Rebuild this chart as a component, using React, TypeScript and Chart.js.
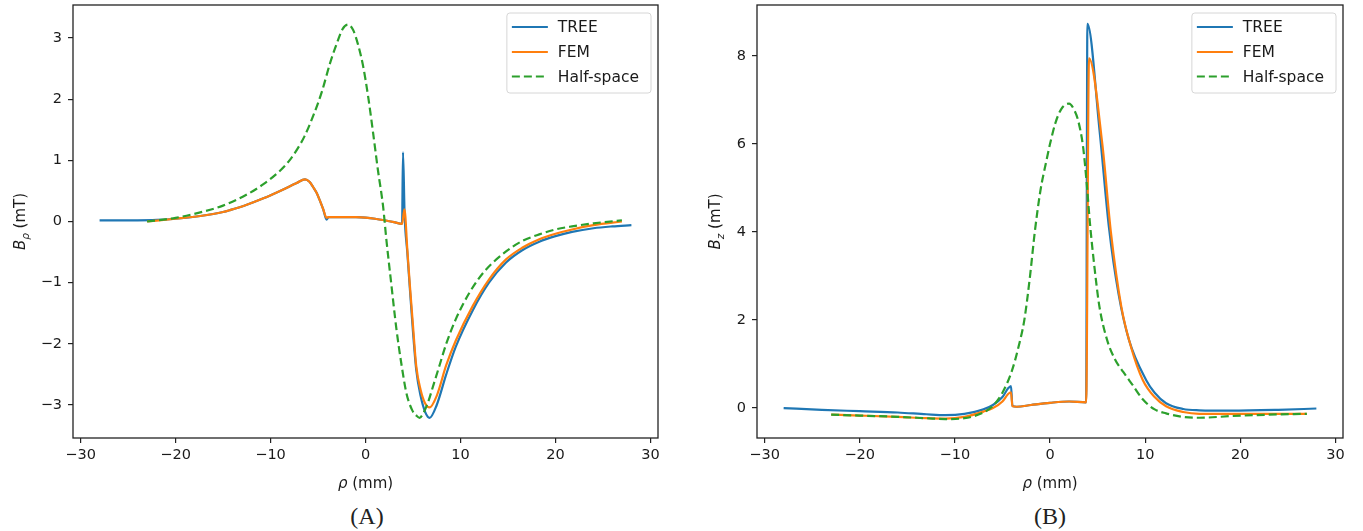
import React, { useEffect, useRef } from "react";
import { Chart, registerables } from "chart.js";

Chart.register(...registerables);

// ---------- shared ticks / labels ----------
const xTickValues = [-30, -20, -10, 0, 10, 20, 30];
const yTickValuesA = [-3, -2, -1, 0, 1, 2, 3];
const yTickValuesB = [0, 2, 4, 6, 8];
const seriesNames = ["TREE", "FEM", "Half-space"];
const seriesColors = ["#1f77b4", "#ff7f0e", "#2ca02c"];
const xAxisTitle = ["ρ", " (mm)"];
const yTitleA = ["B", "ρ", " (mT)"];
const yTitleB = ["B", "z", " (mT)"];
const captionA = "(A)";
const captionB = "(B)";

// ---------- panel A: B_rho ----------
const treeAX = [-28, -26, -24, -22, -20, -17.4, -15, -14.2, -12.5, -10.75, -9, -7.24, -6.37, -5.9, -5.5, -5.15, -4.8, -4.45, -4.1, -3.9, -3, -2, -1, 0, 1, 2, 3, 3.85, 3.95, 4.12, 4.4, 4.65, 5.0, 5.34, 5.8, 6.3, 6.75, 7.5, 8.5, 9.5, 11.3, 13, 14.8, 16.5, 18.3, 20, 21.75, 24, 26, 28];
const treeAY = [0.02, 0.02, 0.02, 0.025, 0.045, 0.09, 0.155, 0.19, 0.275, 0.38, 0.5, 0.63, 0.69, 0.65, 0.56, 0.47, 0.34, 0.2, 0.03, 0.07, 0.072, 0.072, 0.07, 0.062, 0.045, 0.02, -0.01, -0.04, 1.13, 0.1, -0.5, -1.05, -1.8, -2.42, -2.85, -3.12, -3.21, -3.0, -2.5, -2.05, -1.45, -1.0, -0.67, -0.47, -0.33, -0.24, -0.17, -0.11, -0.08, -0.06];

const femAX = [-23, -20, -17.4, -15, -14.2, -12.5, -10.75, -9, -7.24, -6.37, -5.9, -5.5, -5.15, -4.8, -4.45, -4.1, -3.9, -3, -2, -1, 0, 1, 2, 3, 3.85, 4.1, 4.4, 4.65, 5.0, 5.34, 5.8, 6.3, 6.75, 7.5, 8.5, 9.5, 11.3, 13, 14.8, 16.5, 18.3, 20, 21.75, 24, 27];
const femAY = [0.0, 0.045, 0.09, 0.155, 0.19, 0.275, 0.38, 0.5, 0.63, 0.69, 0.65, 0.56, 0.47, 0.34, 0.2, 0.06, 0.07, 0.072, 0.072, 0.07, 0.062, 0.045, 0.02, -0.01, -0.04, 0.2, -0.45, -1.0, -1.7, -2.36, -2.75, -2.98, -3.04, -2.85, -2.35, -1.95, -1.38, -0.95, -0.62, -0.43, -0.29, -0.2, -0.13, -0.06, 0.0];

const halfAX = [-23, -20, -17.4, -15, -12.5, -10.75, -9, -8, -7.2, -6.4, -5.5, -4.6, -3.75, -3, -2.4, -1.85, -1.3, -0.8, -0.25, 0.3, 0.8, 1.3, 1.85, 2.2, 2.7, 3.25, 3.8, 4.3, 4.9, 5.4, 5.7, 6.1, 6.6, 7.2, 7.8, 8.5, 9.5, 11, 12.5, 14.8, 16.5, 18.3, 20, 21.75, 24, 27];
const halfAY = [0.0, 0.06, 0.15, 0.26, 0.44, 0.61, 0.83, 1.0, 1.18, 1.4, 1.73, 2.12, 2.58, 2.92, 3.15, 3.22, 3.13, 2.9, 2.54, 2.02, 1.45, 0.85, 0.25, -0.3, -1.0, -1.75, -2.35, -2.8, -3.08, -3.18, -3.21, -3.13, -2.95, -2.65, -2.35, -2.0, -1.6, -1.15, -0.82, -0.49, -0.32, -0.21, -0.13, -0.08, -0.03, 0.02];

// ---------- panel B: B_z ----------
const treeBX = [-28, -24, -20, -16, -13, -11, -9, -7, -6, -5, -4.4, -4.1, -3.95, -3.5, -2, 0, 2, 3.8, 3.93, 5.2, 6.2, 7.2, 8.3, 10.1, 11, 12.2, 14, 15.7, 19, 24, 28];
const treeBY = [0.0, -0.04, -0.07, -0.1, -0.14, -0.16, -0.13, -0.03, 0.07, 0.25, 0.45, 0.5, 0.05, 0.03, 0.07, 0.12, 0.15, 0.13, 8.73, 6.33, 4.1, 2.6, 1.55, 0.64, 0.35, 0.11, -0.02, -0.05, -0.06, -0.04, -0.01];

const femBX = [-23, -20, -16, -13, -11, -9, -7, -6, -5, -4.4, -4.1, -3.95, -3.5, -2, 0, 2, 3.8, 4.1, 5.5, 6.4, 7.5, 8.5, 9.75, 11, 12.2, 14, 15.7, 20, 27];
const femBY = [-0.15, -0.17, -0.2, -0.23, -0.24, -0.2, -0.08, 0.0, 0.15, 0.32, 0.36, 0.04, 0.03, 0.07, 0.12, 0.15, 0.13, 7.95, 6.0, 4.0, 2.3, 1.4, 0.64, 0.25, 0.04, -0.09, -0.13, -0.13, -0.13];

const halfBX = [-23, -20, -16, -13, -11, -9, -7, -6, -5, -4, -3.3, -2.7, -2.1, -1.6, -1, -0.4, 0, 0.6, 1.2, 2.0, 2.6, 3.0, 3.5, 3.9, 4.2, 4.7, 5.2, 6.0, 6.8, 7.7, 8.7, 9.75, 11, 12.2, 14, 15.7, 19.2, 23, 27];
const halfBY = [-0.15, -0.17, -0.2, -0.23, -0.25, -0.23, -0.1, 0.05, 0.35, 0.85, 1.4, 2.0, 3.0, 4.0, 4.95, 5.6, 6.0, 6.5, 6.8, 6.92, 6.75, 6.5, 5.9, 5.0, 4.2, 3.15, 2.3, 1.55, 1.12, 0.82, 0.52, 0.2, -0.03, -0.12, -0.2, -0.22, -0.18, -0.15, -0.13];

const FONT = "'DejaVu Sans', sans-serif";

function pts(xs: number[], ys: number[]) {
  return xs.map((x, i) => ({ x, y: ys[i] }));
}

function fmt(v: number) {
  return v < 0 ? "\u2212" + Math.abs(v) : String(v);
}

const decorPlugin = {
  id: "decor",
  afterDraw(chart: any, _args: any, opts: any) {
    const ctx = chart.ctx as CanvasRenderingContext2D;
    const a = chart.chartArea;
    ctx.save();
    // frame (all four spines)
    ctx.strokeStyle = "#222";
    ctx.lineWidth = 1.3;
    ctx.strokeRect(a.left, a.top, a.right - a.left, a.bottom - a.top);

    // x axis title
    ctx.fillStyle = "#1a1a1a";
    ctx.textBaseline = "middle";
    const fN = `15px ${FONT}`;
    const fI = `italic 15px ${FONT}`;
    ctx.font = fI;
    const w1 = ctx.measureText(xAxisTitle[0]).width;
    ctx.font = fN;
    const w2 = ctx.measureText(xAxisTitle[1]).width;
    const xs = (a.left + a.right) / 2 - (w1 + w2) / 2;
    ctx.textAlign = "left";
    ctx.font = fI;
    ctx.fillText(xAxisTitle[0], xs, opts.xTitleY);
    ctx.font = fN;
    ctx.fillText(xAxisTitle[1], xs + w1, opts.xTitleY);

    // y axis title with subscript
    const yt: string[] = opts.yTitle;
    const fS = `italic 10.5px ${FONT}`;
    ctx.font = fI;
    const b1 = ctx.measureText(yt[0]).width;
    ctx.font = fS;
    const b2 = ctx.measureText(yt[1]).width;
    ctx.font = fN;
    const b3 = ctx.measureText(yt[2]).width;
    const tot = b1 + b2 + b3;
    ctx.translate(opts.yTitleX, (a.top + a.bottom) / 2);
    ctx.rotate(-Math.PI / 2);
    let p = -tot / 2;
    ctx.textBaseline = "alphabetic";
    ctx.font = fI;
    ctx.fillText(yt[0], p, 5);
    p += b1;
    ctx.font = fS;
    ctx.fillText(yt[1], p, 8.5);
    p += b2;
    ctx.font = fN;
    ctx.fillText(yt[2], p, 5);
    ctx.restore();

    // legend
    ctx.save();
    const fL = `15.5px ${FONT}`;
    ctx.font = fL;
    let maxW = 0;
    seriesNames.forEach((n) => (maxW = Math.max(maxW, ctx.measureText(n).width)));
    const bw = 51 + maxW + 12;
    const bh = 80;
    const bx = a.right - 7 - bw;
    const by = a.top + 8;
    ctx.beginPath();
    (ctx as any).roundRect(bx, by, bw, bh, 3);
    ctx.fillStyle = "rgba(255,255,255,0.85)";
    ctx.fill();
    ctx.strokeStyle = "#d6d6d6";
    ctx.lineWidth = 1;
    ctx.stroke();
    const rows = [14, 39, 63.5];
    chart.data.datasets.forEach((ds: any, i: number) => {
      const yy = by + rows[i];
      ctx.beginPath();
      ctx.strokeStyle = ds.borderColor;
      ctx.lineWidth = 2.2;
      ctx.setLineDash(ds.borderDash || []);
      ctx.moveTo(bx + 5, yy);
      ctx.lineTo(bx + 41, yy);
      ctx.stroke();
      ctx.setLineDash([]);
      ctx.fillStyle = "#1a1a1a";
      ctx.textAlign = "left";
      ctx.textBaseline = "middle";
      ctx.fillText(ds.label, bx + 51, yy + 1);
    });
    ctx.restore();
  },
};

type PanelProps = {
  left: number;
  width: number;
  height: number;
  plotLeft: number;
  plotRight: number;
  plotTop: number;
  plotBottom: number;
  yMin: number;
  yMax: number;
  yTicks: number[];
  yTitle: string[];
  yTitleX: number;
  series: { x: number[]; y: number[] }[];
};

function Panel(props: PanelProps) {
  const ref = useRef<HTMLCanvasElement | null>(null);
  useEffect(() => {
    if (!ref.current) return;
    const datasets = props.series.map((s, i) => ({
      label: seriesNames[i],
      data: pts(s.x, s.y),
      borderColor: seriesColors[i],
      backgroundColor: seriesColors[i],
      borderWidth: 2.2,
      borderDash: i === 2 ? [8, 4] : [],
      pointRadius: 0,
      fill: false,
      cubicInterpolationMode: "monotone" as const,
      order: 2 - i,
    }));
    const chart = new Chart(ref.current, {
      type: "line",
      data: { datasets },
      plugins: [decorPlugin],
      options: {
        animation: false,
        responsive: false,
        maintainAspectRatio: false,
        devicePixelRatio: 1,
        layout: { padding: { left: 0, right: props.width - props.plotRight, top: props.plotTop, bottom: 0 } },
        plugins: {
          legend: { display: false },
          tooltip: { enabled: false },
          decor: { yTitle: props.yTitle, yTitleX: props.yTitleX, xTitleY: 484 },
        } as any,
        scales: {
          x: {
            type: "linear",
            min: -30.8,
            max: 30.8,
            afterBuildTicks: (s: any) => {
              s.ticks = xTickValues.map((v) => ({ value: v }));
            },
            afterFit: (s: any) => {
              s.height = props.height - props.plotBottom;
              s.paddingLeft = 0;
              s.paddingRight = 0;
            },
            ticks: {
              font: { family: FONT, size: 14.5 },
              color: "#1a1a1a",
              padding: 4,
              maxRotation: 0,
              autoSkip: false,
              callback: (v: any) => fmt(Number(v)),
            },
            grid: { drawOnChartArea: false, drawTicks: true, tickLength: 5, color: "#222", lineWidth: 1.2 },
            border: { display: false },
          },
          y: {
            type: "linear",
            min: props.yMin,
            max: props.yMax,
            afterBuildTicks: (s: any) => {
              s.ticks = props.yTicks.map((v) => ({ value: v }));
            },
            afterFit: (s: any) => {
              s.width = props.plotLeft;
              s.paddingTop = 0;
              s.paddingBottom = 0;
            },
            ticks: {
              font: { family: FONT, size: 14.5 },
              color: "#1a1a1a",
              padding: 6,
              autoSkip: false,
              callback: (v: any) => fmt(Number(v)),
            },
            grid: { drawOnChartArea: false, drawTicks: true, tickLength: 5, color: "#222", lineWidth: 1.2 },
            border: { display: false },
          },
        },
      } as any,
    });
    return () => chart.destroy();
  }, []);
  return (
    <canvas
      ref={ref}
      width={props.width}
      height={props.height}
      style={{ position: "absolute", left: props.left, top: 0, width: props.width, height: props.height }}
    />
  );
}

const captionStyle: React.CSSProperties = {
  position: "absolute",
  top: 502,
  width: 100,
  textAlign: "center",
  fontFamily: "'Liberation Serif', 'Times New Roman', serif",
  fontSize: 24,
  lineHeight: "28px",
  color: "#222",
};

export default function App() {
  return (
    <div style={{ position: "absolute", left: 0, top: 0, width: 1363, height: 531, background: "#fff", overflow: "hidden" }}>
      <Panel
        left={0}
        width={690}
        height={500}
        plotLeft={73}
        plotRight={658}
        plotTop={5}
        plotBottom={438}
        yMin={-3.54}
        yMax={3.54}
        yTicks={yTickValuesA}
        yTitle={yTitleA}
        yTitleX={20}
        series={[
          { x: treeAX, y: treeAY },
          { x: femAX, y: femAY },
          { x: halfAX, y: halfAY },
        ]}
      />
      <Panel
        left={690}
        width={673}
        height={500}
        plotLeft={67}
        plotRight={653}
        plotTop={5}
        plotBottom={438}
        yMin={-0.68}
        yMax={9.16}
        yTicks={yTickValuesB}
        yTitle={yTitleB}
        yTitleX={25}
        series={[
          { x: treeBX, y: treeBY },
          { x: femBX, y: femBY },
          { x: halfBX, y: halfBY },
        ]}
      />
      <div style={{ ...captionStyle, left: 317 }}>{captionA}</div>
      <div style={{ ...captionStyle, left: 1000 }}>{captionB}</div>
    </div>
  );
}
